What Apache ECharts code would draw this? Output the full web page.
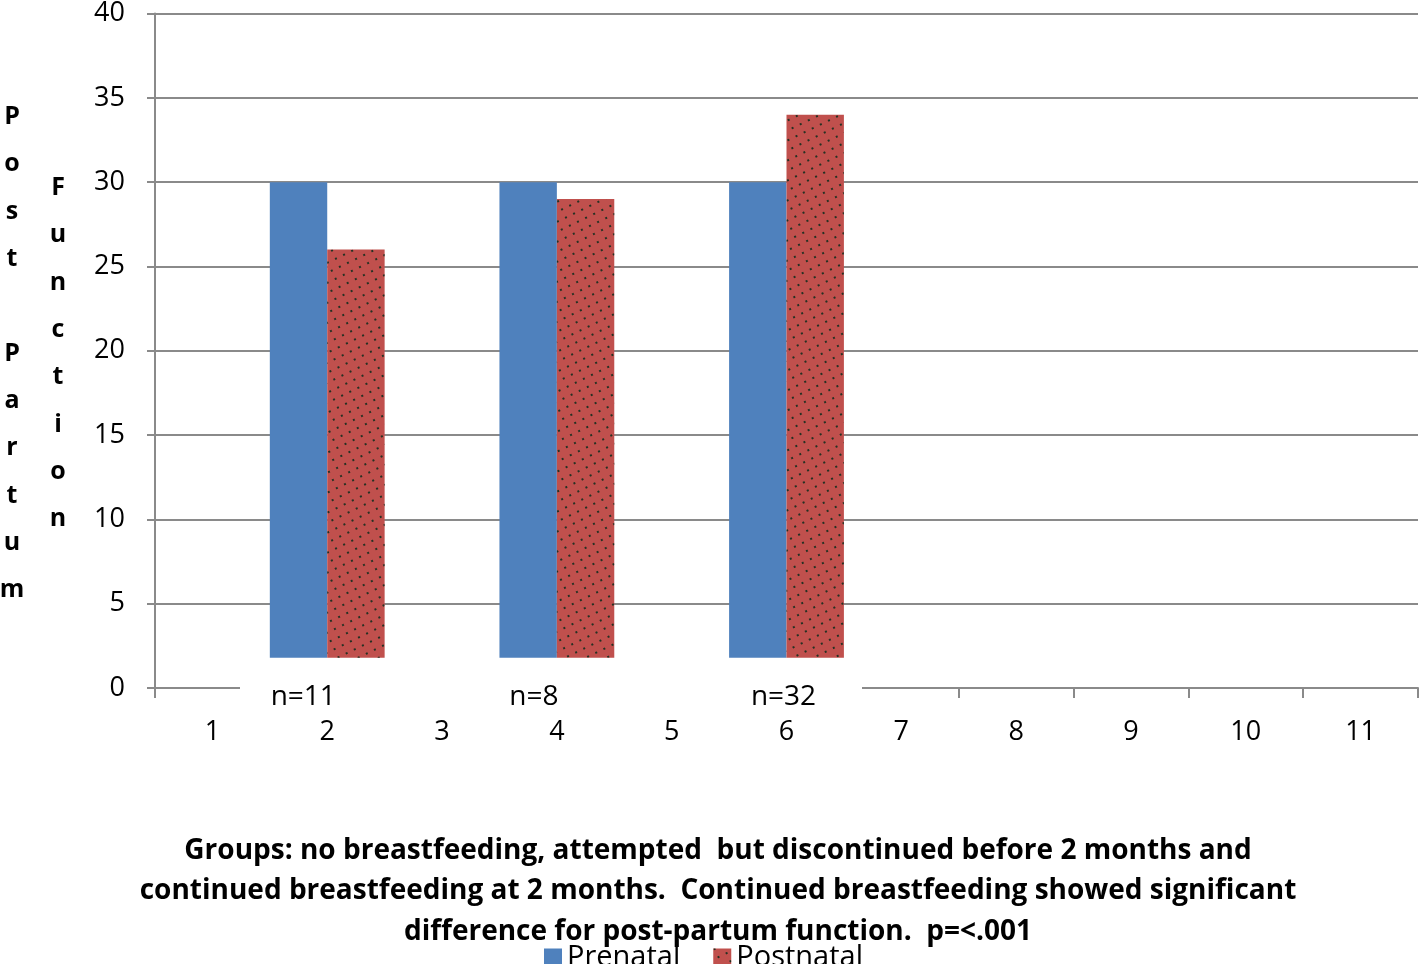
<!DOCTYPE html>
<html>
<head>
<meta charset="utf-8">
<script src="https://cdn.jsdelivr.net/npm/echarts@6/dist/echarts.min.js"></script>
<style>
  html, body { margin: 0; padding: 0; background: #fff; }
  #chart { width: 1419px; height: 964px; }
</style>
</head>
<body>
<div id="chart"></div>
<script>
// ---- data ----
const categories = ['1', '2', '3', '4', '5', '6', '7', '8', '9', '10', '11'];
const prenatal  = [null, 30, null, 30, null, 30, null, null, null, null, null];
const postnatal = [null, 26, null, 29, null, 34, null, null, null, null, null];
const nLabels   = ['', 'n=11', '', 'n=8', '', 'n=32', '', '', '', '', ''];
const barBase = 1.8;   // bars in the original float slightly above 0
const yTicks = { min: 0, max: 40, interval: 5 };
const titleLines = [
  'Groups: no breastfeeding, attempted  but discontinued before 2 months and',
  'continued breastfeeding at 2 months.  Continued breastfeeding showed significant',
  'difference for post-partum function.  p=<.001'
];
const yTitleOuter = 'Post Partum';
const yTitleInner = 'Function';

// ---- style ----
const FONT = '"Open Sans", "Liberation Sans", sans-serif';
const GRAY = '#8a8a8a';
const BLUE = '#4f81bd';
const RED = '#c0504d';
const nLabelShift = { 1: 48, 3: 46, 5: 6 }; // right padding used to nudge labels left

const baseOf = arr => arr.map(v => (v == null ? '-' : barBase));
const aboveBase = arr => arr.map(v => (v == null ? '-' : v - barBase));

const chart = echarts.init(document.getElementById('chart'), null, { renderer: 'canvas' });

const rich = {};
Object.keys(nLabelShift).forEach(k => {
  rich['s' + k] = { fontFamily: FONT, fontSize: 28, color: '#000', padding: [0, nLabelShift[k], 0, 0] };
});

const stacked = s => s.split('').join('\n');

chart.setOption({
  animation: false,
  backgroundColor: '#fff',
  grid: { left: 155, right: 1, top: 12, bottom: 276, containLabel: false },
  legend: {
    data: ['Prenatal', 'Postnatal'],
    left: 544, top: 943, padding: 0,
    icon: 'rect', itemWidth: 18, itemHeight: 18, itemGap: 33,
    textStyle: { fontFamily: FONT, fontSize: 29, color: '#000' },
    z: 50
  },
  xAxis: [
    {
      type: 'category', data: categories, boundaryGap: true,
      axisLine: { show: true, lineStyle: { color: GRAY, width: 2 } },
      axisTick: { show: true, length: 10, lineStyle: { color: GRAY, width: 2 } },
      axisLabel: { interval: 0, margin: 31, fontFamily: FONT, fontSize: 27, color: '#000' },
      splitLine: { show: false }
    },
    {
      type: 'category', data: categories, position: 'bottom', boundaryGap: true,
      axisLine: { show: false }, axisTick: { show: false }, splitLine: { show: false },
      z: 300,
      axisLabel: {
        interval: 0, margin: -5, fontFamily: FONT, fontSize: 28, color: '#000',
        formatter: (v, i) => nLabels[i] ? (nLabelShift[i] != null ? '{s' + i + '|' + nLabels[i] + '}' : nLabels[i]) : '',
        rich: rich
      }
    }
  ],
  yAxis: {
    type: 'value', min: yTicks.min, max: yTicks.max, interval: yTicks.interval,
    axisLine: { show: true, lineStyle: { color: GRAY, width: 2 } },
    axisTick: { show: true, length: 8, lineStyle: { color: GRAY, width: 2 } },
    axisLabel: { margin: 30, fontFamily: FONT, fontSize: 27, color: '#000' },
    splitLine: { show: true, lineStyle: { color: GRAY, width: 2 } }
  },
  series: [
    { name: 'basePre', type: 'bar', stack: 'pre', data: baseOf(prenatal), silent: true,
      itemStyle: { color: 'rgba(0,0,0,0)' }, barGap: '0%', barCategoryGap: '0%' },
    { name: 'Prenatal', type: 'bar', stack: 'pre', data: aboveBase(prenatal),
      itemStyle: { color: BLUE }, barGap: '0%', barCategoryGap: '0%' },
    { name: 'basePost', type: 'bar', stack: 'post', data: baseOf(postnatal), silent: true,
      itemStyle: { color: 'rgba(0,0,0,0)' }, barGap: '0%', barCategoryGap: '0%' },
    { name: 'Postnatal', type: 'bar', stack: 'post', data: aboveBase(postnatal),
      itemStyle: {
        color: RED,
        decal: { symbol: 'rect', symbolSize: 1, color: 'rgba(20,45,30,0.9)',
                 dashArrayX: [1.5, 7], dashArrayY: [1.5, 6.5], rotation: -0.45 }
      },
      barGap: '0%', barCategoryGap: '0%' }
  ],
  graphic: [
    { type: 'rect', z: 100, shape: { x: 240, y: 683, width: 622, height: 18 },
      style: { fill: '#fff' } },
    { type: 'text', z: 100, x: 12, y: 353.5,
      style: { text: stacked(yTitleOuter), font: 'bold 25px ' + FONT, fill: '#000',
               align: 'center', verticalAlign: 'middle', lineHeight: 47.3 } },
    { type: 'text', z: 100, x: 58, y: 353.5,
      style: { text: stacked(yTitleInner), font: 'bold 25px ' + FONT, fill: '#000',
               align: 'center', verticalAlign: 'middle', lineHeight: 47.3 } },
    { type: 'text', z: 10, x: 718, y: 891.5,
      style: { text: titleLines.join('\n'), font: 'bold 28px ' + FONT, fill: '#000',
               align: 'center', verticalAlign: 'middle', lineHeight: 40.5 } }
  ]
});
</script>
</body>
</html>
